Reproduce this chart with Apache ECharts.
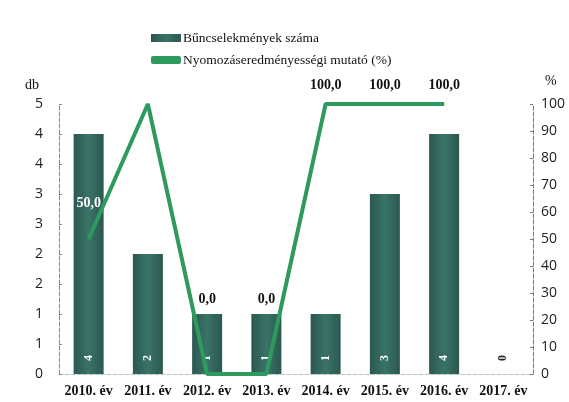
<!DOCTYPE html>
<html>
<head>
<meta charset="utf-8">
<script src="https://cdn.jsdelivr.net/npm/echarts@6/dist/echarts.min.js"></script>
<style>html,body{margin:0;padding:0;background:#fff}#c{width:569px;height:402px}</style>
</head>
<body>
<div id="c"></div>
<script>
var categories = ['2010. év','2011. év','2012. év','2013. év','2014. év','2015. év','2016. év','2017. év'];
var crimeCounts = [4, 2, 1, 1, 1, 3, 4, 0];
var successRate = [50, 100, 0, 0, 100, 100, 100, null];
var leftTicks = [0, 0.5, 1, 1.5, 2, 2.5, 3, 3.5, 4, 4.5];
var seriesNames = ['Bűncselekmények száma', 'Nyomozáseredményességi mutató (%)'];

var chart = echarts.init(document.getElementById('c'));
var serif = 'Liberation Serif';
var barColor = new echarts.graphic.LinearGradient(0,0,1,0,[
  {offset:0,color:'#2b5850'},{offset:0.5,color:'#3a7367'},{offset:1,color:'#2b5850'}]);

var barData = crimeCounts.map(function(v){
  return {value:v, label:{color: v===0 ? '#222' : '#fff'}};
});
var lineOffsets = [[0,-23],null,[0,-62],[0,-62],[0,-6],[0,-6],[0,-6],null];
var lineData = successRate.map(function(v,i){
  if (v === null) return null;
  var o = lineOffsets[i];
  return {value:v, label:{show: o!==null, offset:o || [0,0], color: i===0 ? '#fff' : '#111'}};
});

chart.setOption({
  animation:false,
  backgroundColor:'#fff',
  legend:{
    orient:'vertical', left:146, top:26, itemGap:8, itemWidth:30, itemHeight:8,
    textStyle:{fontFamily:serif, fontSize:13.5, color:'#111', padding:[0,0,0,-3]},
    data:[{name:seriesNames[0], icon:'rect'},
          {name:seriesNames[1], icon:'roundRect', itemStyle:{color:'#2e9a5e'}}]
  },
  grid:{left:59, right:36, top:104, bottom:28},
  xAxis:{
    type:'category', data:categories,
    axisLine:{lineStyle:{color:'#b8c4c0', type:'dashed'}},
    axisTick:{show:false},
    axisLabel:{fontFamily:serif, fontWeight:'bold', fontSize:14, color:'#111', margin:10, interval:0}
  },
  yAxis:[{
    type:'value', min:0, max:4.5, interval:0.5,
    name:'db', nameLocation:'end', nameGap:12,
    nameTextStyle:{fontFamily:serif, fontSize:14, color:'#111', align:'right', padding:[0,20,0,0]},
    axisLine:{show:true, lineStyle:{color:'#888', type:'dashed'}},
    axisTick:{show:true, length:3, inside:true, lineStyle:{color:'#888'}},
    splitLine:{show:false},
    axisLabel:{fontFamily:'Open Sans', fontSize:14, color:'#222', margin:16,
      formatter:function(v){ return String(Math.round(v + 1e-9)); }}
  },{
    type:'value', min:0, max:100, interval:10,
    name:'%', nameLocation:'end', nameGap:16,
    nameTextStyle:{fontFamily:serif, fontSize:14, color:'#111', align:'left', padding:[0,0,0,12]},
    axisLine:{show:true, lineStyle:{color:'#777', type:'dashed'}},
    axisTick:{show:true, length:3, inside:true, lineStyle:{color:'#777'}},
    splitLine:{show:false},
    axisLabel:{fontFamily:'Open Sans', fontSize:14, color:'#222', margin:8}
  }],
  series:[{
    name:seriesNames[0], type:'bar', data:barData, barWidth:30,
    itemStyle:{color:barColor},
    label:{show:true, position:'insideBottom', rotate:90, distance:13, fontFamily:serif, fontWeight:'bold', fontSize:12,
      align:'left', verticalAlign:'middle'}
  },{
    name:seriesNames[1], type:'line', yAxisIndex:1, data:lineData,
    symbol:'circle', symbolSize:1, showSymbol:true,
    lineStyle:{color:'#2e9a5e', width:4},
    itemStyle:{color:'#2e9a5e'},
    label:{show:true, position:'top', fontFamily:serif, fontWeight:'bold', fontSize:14,
      formatter:function(p){ return p.value.toFixed(1).replace('.', ','); }}
  }]
});
</script>
</body>
</html>
